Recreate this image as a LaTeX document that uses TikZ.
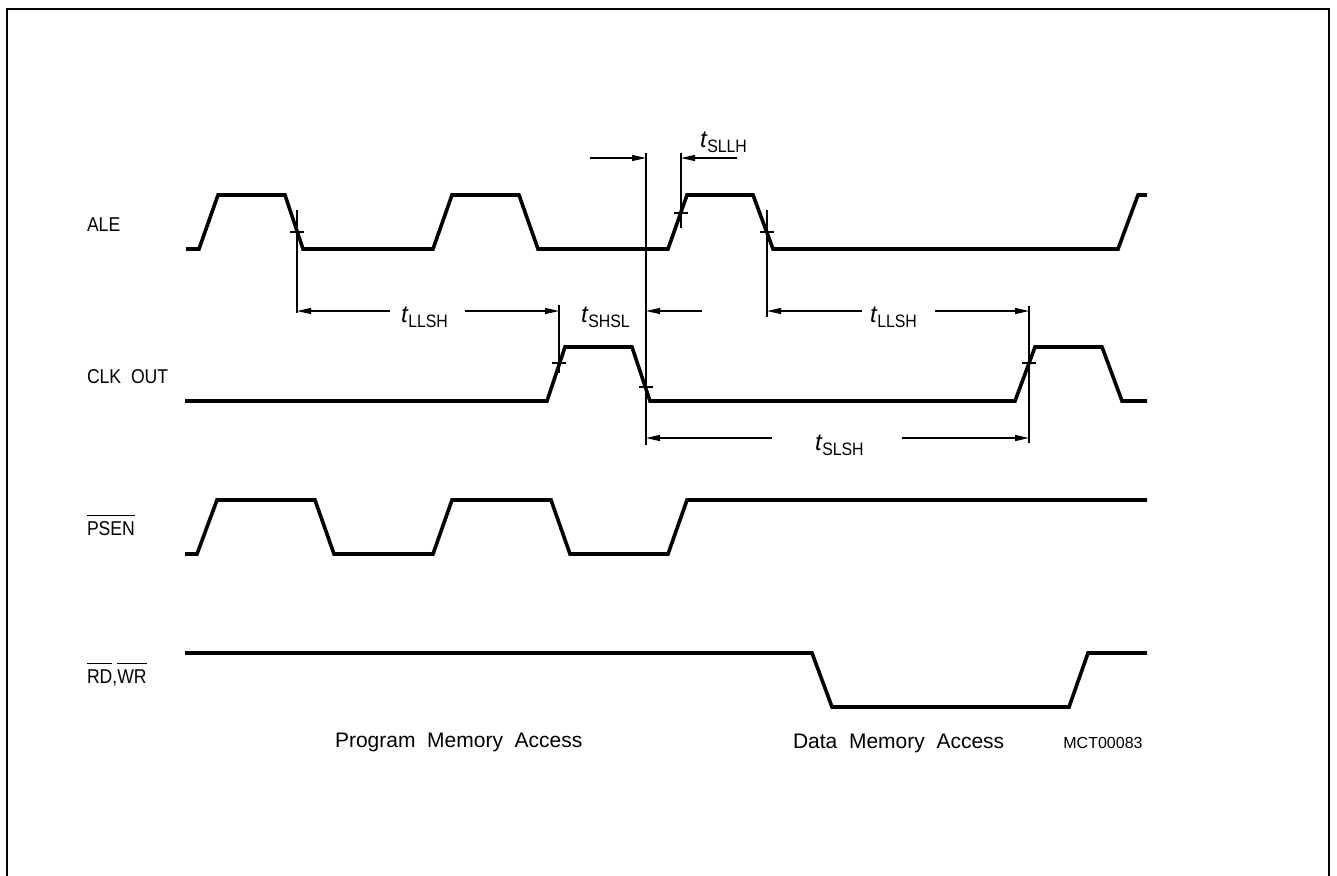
\documentclass[tikz,border=0pt]{standalone}
\usepackage{fontspec}
\setmainfont{Liberation Sans}
\newfontfamily\capfont[FakeStretch=0.88]{Liberation Sans}
\usetikzlibrary{arrows.meta}
\newcommand\ovl[1]{\leavevmode\vbox{\hrule height 0.5pt\kern 2.6pt\hbox{#1}}}
\newcommand\tsub[1]{{\fontsize{12}{12}\selectfont\itshape t}\kern0.3pt\raisebox{-2.5pt}{\fontsize{9}{9}\selectfont\capfont #1}}
\begin{document}
\begin{tikzpicture}[x=0.5pt,y=-0.5pt,
  sig/.style={line width=1.8pt, line join=miter},
  thinln/.style={line width=0.6pt},
  dimarr/.style={line width=0.6pt,-{Triangle[length=7pt,width=3pt]}},
  lab/.style={anchor=base west, inner sep=0pt, outer sep=0pt, font=\fontsize{10}{12}\selectfont\capfont},
  bot/.style={anchor=base west, inner sep=0pt, outer sep=0pt, font=\fontsize{10.5}{12}\selectfont},
  tl/.style={anchor=base west, inner sep=0pt, outer sep=0pt}]
\useasboundingbox (0,0) rectangle (1337,875);
% frame
\draw[line width=0.9pt] (7,890) -- (7,9) -- (1329,9) -- (1329,890);

% signal labels
\node[lab] (ale) at (87,231) {ALE};
\node[lab] (clk) at (87,383) {CLK\ \ OUT};
\node[lab] (psen) at (87,535) {\ovl{PSEN}};
\node[lab] (rdwr) at (87,683) {\ovl{RD},\ovl{WR}};

% waveforms
\draw[sig] (186,249) -- (199,249) -- (218,195) -- (285,195) -- (303,249) -- (433,249) -- (452,195) -- (519,195) -- (538,249) -- (668,249) -- (687,195) -- (753,195) -- (773,249) -- (1118,249) -- (1138,195) -- (1147,195);
\draw[sig] (185,401) -- (547,401) -- (565,347) -- (632,347) -- (650,401) -- (1015,401) -- (1035,347) -- (1102,347) -- (1122,401) -- (1147,401);
\draw[sig] (185,554) -- (197,554) -- (217,500) -- (315,500) -- (334,554) -- (433,554) -- (452,500) -- (551,500) -- (570,554) -- (668,554) -- (687,500) -- (1147,500);
\draw[sig] (185,653) -- (812,653) -- (832,707) -- (1069,707) -- (1088,653) -- (1147,653);

% tick marks on edges
\foreach \x/\y in {297/232, 681/213, 767/232, 559/363, 646/387, 1029/363}
  \draw[thinln] (\x-7,\y) -- (\x+7,\y);

% reference lines
\coordinate (v1a) at (297,210);  \coordinate (v1b) at (297,313);
\coordinate (v2a) at (646,153);  \coordinate (v2b) at (646,445);
\coordinate (v3a) at (681,153);  \coordinate (v3b) at (681,228);
\coordinate (v4a) at (767,210);  \coordinate (v4b) at (767,317);
\coordinate (v5a) at (559,305);  \coordinate (v5b) at (559,373);
\coordinate (v6a) at (1029,306); \coordinate (v6b) at (1029,443);
\foreach \v in {v1,v2,v3,v4,v5,v6}
  \draw[thinln] (\v a) -- (\v b);

% t_LLSH (1)
\coordinate (a1l) at (390,311); \coordinate (a1r) at (465,311);
\draw[dimarr] (a1l) -- (v1a |- a1l);
\draw[dimarr] (a1r) -- (v5a |- a1r);
\node[tl] (tllsha) at (401,322) {\tsub{LLSH}};

% t_SHSL
\coordinate (a2r) at (702,311);
\draw[dimarr] (a2r) -- (v2a |- a2r);
\node[tl] (tshsl) at (581,322) {\tsub{SHSL}};

% t_SLLH
\coordinate (a3l) at (590,158); \coordinate (a3r) at (737,158);
\draw[dimarr] (a3l) -- (v2a |- a3l);
\draw[dimarr] (a3r) -- (v3a |- a3r);
\node[tl] (tsllh) at (700,147) {\tsub{SLLH}};

% t_LLSH (2)
\coordinate (a4l) at (862,311); \coordinate (a4r) at (935,311);
\draw[dimarr] (a4l) -- (v4a |- a4l);
\draw[dimarr] (a4r) -- (v6a |- a4r);
\node[tl] (tllshb) at (870,322) {\tsub{LLSH}};

% t_SLSH
\coordinate (a5l) at (772,438); \coordinate (a5r) at (902,438);
\draw[dimarr] (a5l) -- (v2a |- a5l);
\draw[dimarr] (a5r) -- (v6a |- a5r);
\node[tl] (tslsh) at (815,450) {\tsub{SLSH}};

% bottom captions
\node[bot] (pma) at (335,747) {Program\ \ Memory\ \ Access};
\node[bot] (dma) at (793,748) {Data\ \ Memory\ \ Access};
\node[anchor=base west, inner sep=0pt, font=\fontsize{8}{10}\selectfont] (mct) at (1063,748) {MCT00083};
\end{tikzpicture}
\end{document}
